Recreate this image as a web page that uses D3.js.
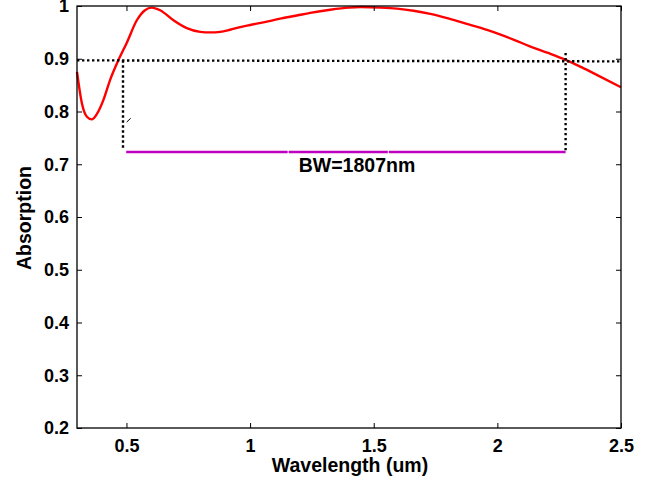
<!DOCTYPE html>
<html><head><meta charset="utf-8">
<script src="https://cdn.jsdelivr.net/npm/d3@7"></script>
<style>
html,body{margin:0;padding:0;background:#fff;}
svg{display:block;font-family:"Liberation Sans",Arial,sans-serif;font-weight:bold;}
</style></head><body>
<script>
// Absorption spectrum (wavelength in um)
const wavelength = [0.30,0.32,0.34,0.36,0.38,0.407,0.434,0.467,0.501,0.542,0.575,0.602,0.636,0.69,0.744,0.798,0.84,0.879,0.919,0.96,1.00,1.054,1.122,1.189,1.243,1.324,1.40,1.446,1.527,1.594,1.661,1.729,1.797,1.863,1.93,1.999,2.067,2.134,2.205,2.276,2.34,2.404,2.50];
const absorption = [0.875,0.815,0.79,0.785,0.795,0.822,0.86,0.897,0.93,0.973,0.992,0.997,0.992,0.973,0.958,0.951,0.950,0.951,0.955,0.960,0.964,0.969,0.976,0.982,0.987,0.993,0.997,0.998,0.997,0.995,0.991,0.985,0.977,0.968,0.959,0.948,0.936,0.923,0.911,0.898,0.884,0.869,0.846];
// threshold and bandwidth markers
const thresholdX = [0.30,2.50];
const thresholdY = [0.897,0.895];
const bwLeft = {x:[0.486,0.486], y:[0.897,0.730]};
const bwRight = {x:[2.276,2.276], y:[0.911,0.723]};
const bwSegmentsX = [[0.499,1.152],[1.156,1.557],[1.561,2.276]];
const bwLevel = 0.723;
const bwLabel = "BW=1807nm";
const markX = [0.501,0.517], markY = [0.780,0.787];
const xTicks = [0.5,1,1.5,2,2.5];
const yTicks = [0.2,0.3,0.4,0.5,0.6,0.7,0.8,0.9,1];
const xTitle = "Wavelength (um)", yTitle = "Absorption";

const W=657,H=484, L=77,R=621,T=6,B=428;
const svg=d3.select("body").append("svg").attr("width",W).attr("height",H);
const x=d3.scaleLinear().domain([0.3,2.5]).range([L,R]);
const y=d3.scaleLinear().domain([0.2,1]).range([B,T]);
const fmt=d=>String(d);

// curve
const line=d3.line().x(d=>x(d[0])).y(d=>y(d[1])).curve(d3.curveMonotoneX);
svg.append("path").datum(wavelength.map((w,i)=>[w,absorption[i]]))
  .attr("d",line).attr("fill","none").attr("stroke","#ff0000").attr("stroke-width",2.4);

// dotted lines
const dotted=(xs,ys)=>svg.append("path").datum(xs.map((v,i)=>[v,ys[i]]))
  .attr("d",d3.line().x(d=>x(d[0])).y(d=>y(d[1])))
  .attr("fill","none").attr("stroke","#000").attr("stroke-width",2.4).attr("stroke-dasharray","2.4,2.6");
dotted(thresholdX,thresholdY);
dotted(bwLeft.x,bwLeft.y);
dotted(bwRight.x,bwRight.y);

// magenta bandwidth bar
svg.selectAll("line.bw").data(bwSegmentsX).enter().append("line")
  .attr("x1",d=>x(d[0])).attr("x2",d=>x(d[1])).attr("y1",y(bwLevel)).attr("y2",y(bwLevel))
  .attr("stroke","#c000c0").attr("stroke-width",2.5);
svg.append("line").attr("x1",x(markX[0])).attr("x2",x(markX[1])).attr("y1",y(markY[0])).attr("y2",y(markY[1]))
  .attr("stroke","#000").attr("stroke-width",1);
svg.append("text").attr("x",357).attr("y",y(bwLevel)+20).attr("text-anchor","middle")
  .attr("font-size",19.5).attr("fill","#000").text(bwLabel);

// axes
const tk=5;
const bx=svg.append("g").attr("transform",`translate(0,${B})`).call(d3.axisBottom(x).tickValues(xTicks).tickSize(-tk).tickPadding(tk+6).tickFormat(fmt));
const tx=svg.append("g").attr("transform",`translate(0,${T})`).call(d3.axisTop(x).tickValues(xTicks).tickSize(-tk).tickFormat(""));
const ly=svg.append("g").attr("transform",`translate(${L},0)`).call(d3.axisLeft(y).tickValues(yTicks).tickSize(-tk).tickPadding(tk+3).tickFormat(fmt));
const ry=svg.append("g").attr("transform",`translate(${R},0)`).call(d3.axisRight(y).tickValues(yTicks).tickSize(-tk).tickFormat(""));
[bx,tx,ly,ry].forEach(g=>{
  g.select(".domain").remove();
  g.selectAll("line").attr("stroke","#000").attr("stroke-width",1);
  g.selectAll("text").attr("font-size",18).attr("font-family","Liberation Sans, Arial, sans-serif").attr("font-weight","bold").attr("fill","#000");
});
svg.append("rect").attr("x",L).attr("y",T).attr("width",R-L).attr("height",B-T)
  .attr("fill","none").attr("stroke","#000").attr("stroke-width",1.3);

svg.append("text").attr("x",(L+R)/2+1).attr("y",472).attr("text-anchor","middle").attr("font-size",19.5).text(xTitle);
svg.append("text").attr("transform",`translate(31,${(T+B)/2+1}) rotate(-90)`).attr("text-anchor","middle").attr("font-size",19.5).text(yTitle);
</script></body></html>
